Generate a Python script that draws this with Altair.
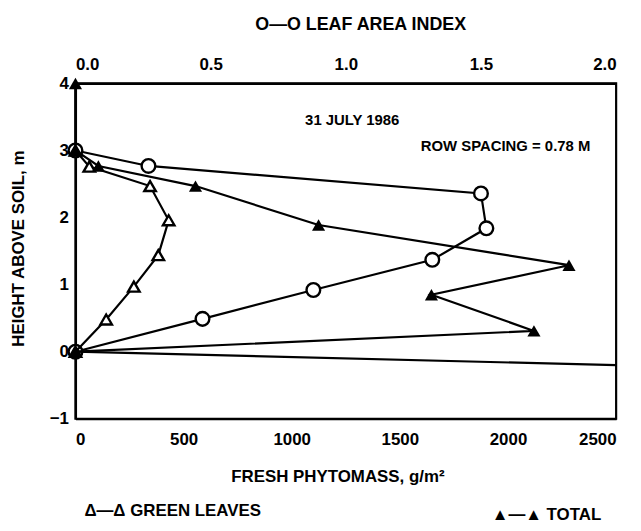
import altair as alt
import pandas as pd

# Leaf area index profile (top axis)
lai_x = [0.0, 0.27, 1.50, 1.52, 1.32, 0.88, 0.47, 0.0]
lai_h = [3.0, 2.77, 2.36, 1.84, 1.37, 0.92, 0.49, 0.0]

# Green leaves fresh phytomass, g/m2
gl_x = [0, 64, 345, 431, 383, 270, 142, 0]
gl_h = [3.0, 2.76, 2.47, 1.96, 1.44, 0.97, 0.48, 0.0]

# Total fresh phytomass, g/m2
tot_x = [0, 0, 106, 555, 1124, 2282, 1646, 2120, 0]
tot_h = [4.0, 3.0, 2.77, 2.47, 1.89, 1.29, 0.85, 0.31, 0.0]

# Soil surface line as drawn
gr_x = [0, 2500]
gr_h = [0.0, -0.2]

x_ticks = [0, 500, 1000, 1500, 2000, 2500]
lai_ticks = [0.0, 0.5, 1.0, 1.5, 2.0]
y_ticks = [-1, 0, 1, 2, 3, 4]

FONT = "Liberation Sans"
W, H = 545, 338

lai_df = pd.DataFrame({"x": lai_x, "h": lai_h, "i": range(len(lai_x))})
gl_df = pd.DataFrame({"x": gl_x, "h": gl_h, "i": range(len(gl_x))})
tot_df = pd.DataFrame({"x": tot_x, "h": tot_h, "i": range(len(tot_x))})
gr_df = pd.DataFrame({"x": gr_x, "h": gr_h, "i": range(len(gr_x))})

yscale = alt.Scale(domain=[-1, 4], nice=False, zero=False)
yaxis = alt.Axis(values=y_ticks, format="d", title="HEIGHT ABOVE SOIL, m",
                 grid=False, ticks=False, labelPadding=7, labelFontSize=17,
                 labelFontWeight="bold", labelFont=FONT, labelColor="black",
                 domainColor="black", domainWidth=2.2,
                 titleFont=FONT, titleFontSize=17, titleFontWeight="bold",
                 titleX=-57, titleY=H / 2 - 3, titleAngle=270, titleAlign="center",
                 titleBaseline="middle", titleColor="black")

pscale = alt.Scale(domain=[0, 2500], nice=False, zero=False)
paxis = alt.Axis(values=x_ticks, format="d", title="FRESH PHYTOMASS, g/m²",
                 grid=False, ticks=False, labelPadding=13, labelFontSize=17,
                 labelFontWeight="bold", labelFont=FONT, labelColor="black",
                 domainColor="black", domainWidth=2.2,
                 titleFont=FONT, titleFontSize=17, titleFontWeight="bold",
                 titleX=264, titleY=58, titleAlign="center",
                 titleBaseline="middle", titleColor="black")

lscale = alt.Scale(domain=[0, 2], nice=False, zero=False)
laxis = alt.Axis(values=lai_ticks, format=".1f", title="O—O LEAF AREA INDEX",
                 orient="top", grid=False, ticks=False, labelPadding=10,
                 labelFontSize=17, labelFontWeight="bold", labelFont=FONT,
                 labelColor="black", domainColor="black", domainWidth=2.2,
                 titleFont=FONT, titleFontSize=18, titleFontWeight="bold",
                 titleX=287, titleY=-59, titleAlign="center",
                 titleBaseline="middle", titleColor="black")


def px(axis):
    return dict(
        x=alt.X("x:Q", scale=pscale, axis=axis),
        y=alt.Y("h:Q", scale=yscale, axis=yaxis),
        order=alt.Order("i:Q"),
    )


ground = alt.Chart(gr_df).mark_line(color="black", strokeWidth=2.2).encode(**px(paxis))
gl_line = alt.Chart(gl_df).mark_line(color="black", strokeWidth=2.2).encode(**px(paxis))
gl_pts = alt.Chart(gl_df).mark_point(shape="triangle-up", size=135, filled=True,
                                      fill="white", stroke="black", strokeWidth=2.4,
                                      opacity=1).encode(**px(paxis))
tot_line = alt.Chart(tot_df).mark_line(color="black", strokeWidth=2.2).encode(**px(paxis))
tot_pts = alt.Chart(tot_df).mark_point(shape="triangle-up", size=175, filled=True,
                                       color="black", opacity=1).encode(**px(paxis))

one = pd.DataFrame({"a": [0]})
date_txt = alt.Chart(one).mark_text(text="31 JULY 1986", font=FONT, fontSize=15,
                                    fontWeight="bold", align="center", baseline="middle",
                                    color="black").encode(x=alt.value(279), y=alt.value(37))
row_txt = alt.Chart(one).mark_text(text="ROW SPACING = 0.78 M", font=FONT, fontSize=15,
                                   fontWeight="bold", align="right", baseline="middle",
                                   color="black").encode(x=alt.value(519), y=alt.value(63))
leg1 = alt.Chart(one).mark_text(text="Δ—Δ  GREEN LEAVES", font=FONT, fontSize=17,
                                fontWeight="bold", align="left", baseline="middle",
                                color="black").encode(x=alt.value(9), y=alt.value(431))
leg2 = alt.Chart(one).mark_text(text="▲—▲  TOTAL", font=FONT, fontSize=17,
                                fontWeight="bold", align="right", baseline="middle",
                                color="black").encode(x=alt.value(530), y=alt.value(435))

lai_enc = dict(
    x=alt.X("x:Q", scale=lscale, axis=laxis),
    y=alt.Y("h:Q", scale=yscale, axis=yaxis),
    order=alt.Order("i:Q"),
)
lai_line = alt.Chart(lai_df).mark_line(color="black", strokeWidth=2.2).encode(**lai_enc)
lai_pts = alt.Chart(lai_df).mark_point(shape="circle", size=190, filled=True,
                                       fill="white", stroke="black", strokeWidth=2.4,
                                       opacity=1).encode(**lai_enc)
lai_layer = alt.layer(lai_line, lai_pts)

p_layer = alt.layer(ground, gl_line, tot_line, gl_pts, tot_pts,
                    date_txt, row_txt, leg1, leg2)

chart = alt.layer(lai_layer, p_layer).resolve_scale(x="independent").properties(
    width=W, height=H,
    autosize=alt.AutoSizeParams(type="none"),
    padding={"left": 68, "top": 74, "right": 17, "bottom": 103},
    background="white",
).configure_view(stroke="black", strokeWidth=2.2)

chart.save("out.html", embed_options={"renderer": "svg", "actions": False})
